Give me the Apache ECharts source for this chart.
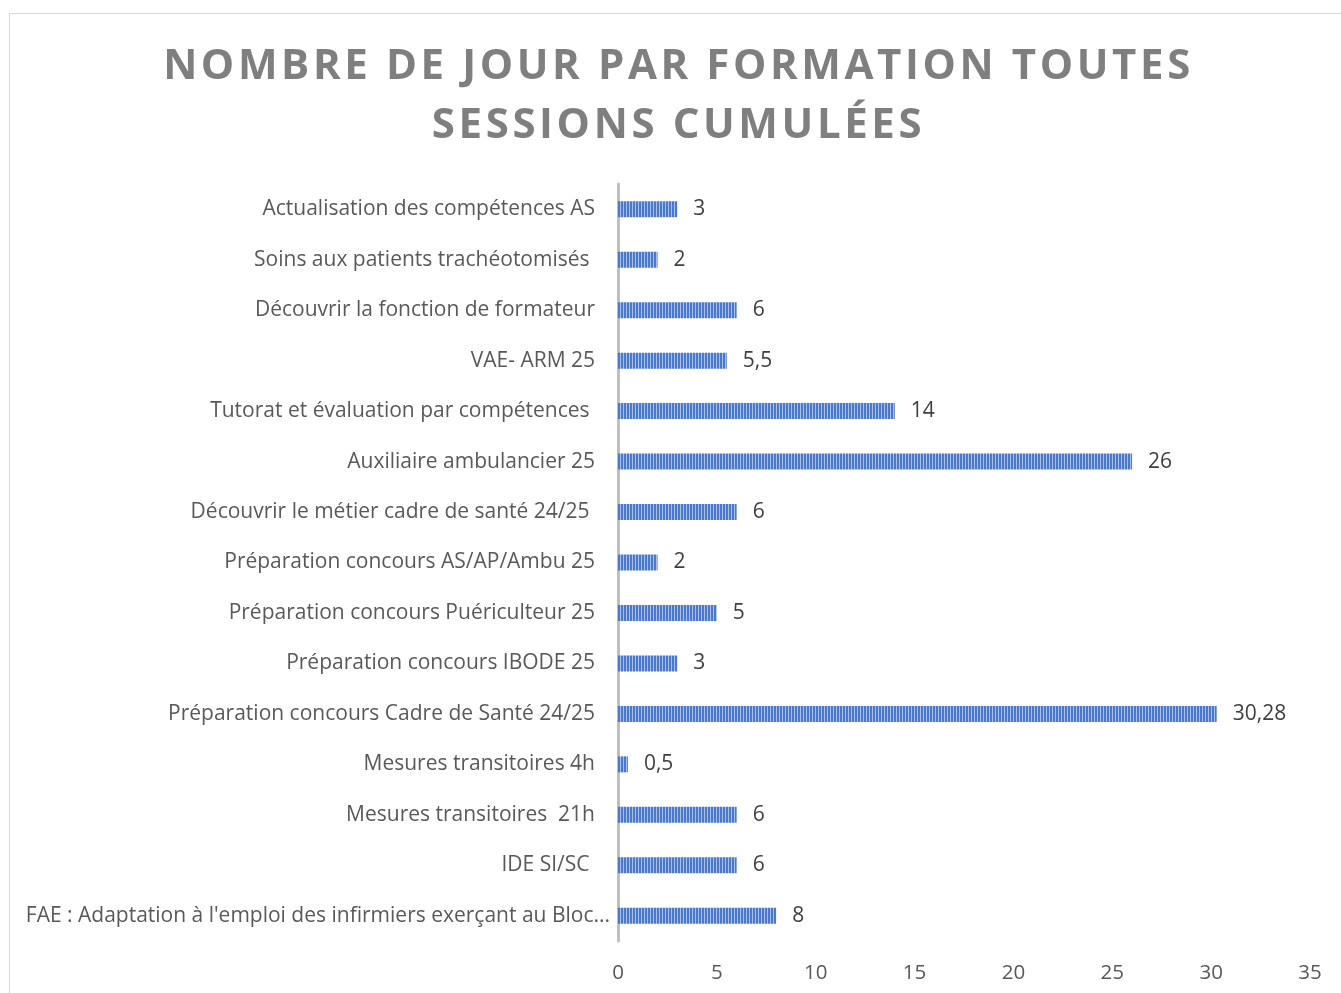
<!DOCTYPE html>
<html lang="fr">
<head>
  <meta charset="UTF-8">
  <title>Nombre de jour par formation</title>
  <script src="https://cdn.jsdelivr.net/npm/echarts@6.0.0/dist/echarts.min.js"></script>
  <style>
    html, body { margin: 0; padding: 0; background: #fff; overflow: hidden; }
    #frame {
      position: absolute; left: 9px; top: 13px; width: 1400px; height: 1100px;
      border: 1px solid #d9d9d9; box-sizing: border-box;
    }
    #title {
      position: absolute; left: 0; top: 33px; width: 1357px; text-align: center;
      font-family: "Open Sans", sans-serif; font-weight: bold; font-size: 42px;
      line-height: 59px; letter-spacing: 3.6px; color: #7f7f7f;
    }
    #chart { position: absolute; left: 0; top: 0; width: 1341px; height: 993px; }
  </style>
</head>
<body>
  <div id="frame"></div>
  <div id="chart"></div>
  <div id="title">NOMBRE DE JOUR PAR FORMATION TOUTES<br>SESSIONS CUMULÉES</div>

  <script>
    // formations, de haut en bas
    const formations = [
      'Actualisation des compétences AS',
      'Soins aux patients trachéotomisés ',
      'Découvrir la fonction de formateur',
      'VAE- ARM 25',
      'Tutorat et évaluation par compétences ',
      'Auxiliaire ambulancier 25',
      'Découvrir le métier cadre de santé 24/25 ',
      'Préparation concours AS/AP/Ambu 25',
      'Préparation concours Puériculteur 25',
      'Préparation concours IBODE 25',
      'Préparation concours Cadre de Santé 24/25',
      'Mesures transitoires 4h',
      'Mesures transitoires  21h',
      'IDE SI/SC ',
      "FAE : Adaptation à l'emploi des infirmiers exerçant au Bloc..."
    ];
    const jours = [3, 2, 6, 5.5, 14, 26, 6, 2, 5, 3, 30.28, 0.5, 6, 6, 8];

    // motif rayé vertical des barres
    function stripePattern() {
      const c = document.createElement('canvas');
      c.width = 3; c.height = 4;
      const ctx = c.getContext('2d');
      ctx.fillStyle = '#4a78cc';
      ctx.fillRect(0, 0, 3, 4);
      ctx.fillStyle = '#a9c0ea';
      ctx.fillRect(2, 0, 1, 4);
      return { image: c, repeat: 'repeat' };
    }

    // le libellé tronqué déborde un peu vers l'axe, comme dans Excel
    const categories = formations.map(function (f, i) {
      if (i === formations.length - 1) {
        return { value: f, textStyle: { padding: [0, -15, 0, 0] } };
      }
      return f;
    });

    const chart = echarts.init(document.getElementById('chart'));
    const font = '"Open Sans", sans-serif';

    chart.setOption({
      animation: false,
      grid: { left: 618, right: 31, top: 184, height: 757, containLabel: false },
      xAxis: {
        type: 'value',
        min: 0, max: 35, interval: 5,
        axisLine: { show: false },
        axisTick: { show: false },
        splitLine: { show: false },
        axisLabel: { color: '#595959', fontSize: 20.5, fontFamily: font, margin: 22 }
      },
      yAxis: {
        type: 'category',
        inverse: true,
        data: categories,
        axisLine: { show: true, lineStyle: { color: '#bfbfbf', width: 3 } },
        axisTick: { show: false },
        axisLabel: { color: '#595959', fontSize: 21, fontFamily: font, margin: 23 }
      },
      series: [{
        type: 'bar',
        data: jours,
        barWidth: 16,
        itemStyle: { color: stripePattern() },
        label: {
          show: true,
          position: 'right',
          distance: 16,
          color: '#404040',
          fontSize: 21,
          fontFamily: font,
          formatter: p => String(p.value).replace('.', ',')
        }
      }]
    });
  </script>
</body>
</html>
